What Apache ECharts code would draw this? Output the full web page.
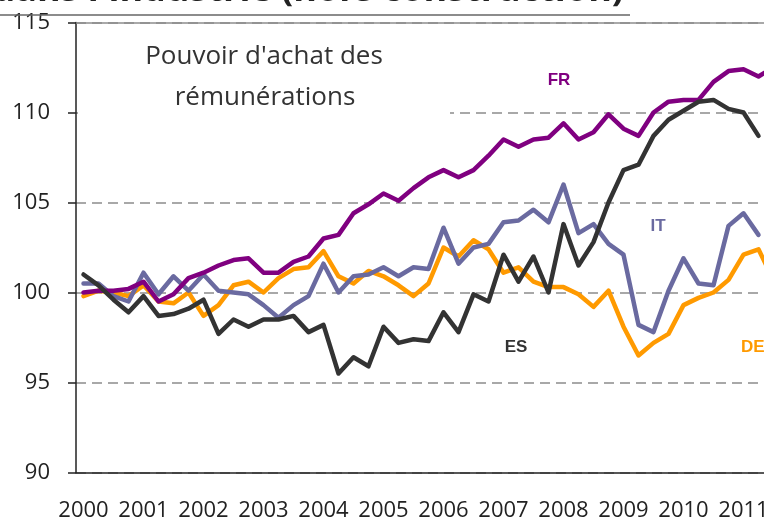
<!DOCTYPE html>
<html>
<head>
<meta charset="utf-8">
<script src="https://cdn.jsdelivr.net/npm/echarts@6/dist/echarts.min.js"></script>
<style>
    html, body { margin: 0; padding: 0; background: #fff; }
    #chart { width: 764px; height: 524px; }
</style>
</head>
<body>
<div id="chart"></div>
<script>
// années affichées sur l'axe (données trimestrielles)
const years = [2000, 2001, 2002, 2003, 2004, 2005, 2006, 2007, 2008, 2009, 2010, 2011];
const quarterNames = ["T1", "T2", "T3", "T4"];

// pouvoir d'achat des rémunérations, base 100 en 2000T1
const frValues = [100.0, 100.1, 100.1, 100.2, 100.6, 99.5, 99.9, 100.8, 101.1, 101.5, 101.8, 101.9,
    101.1, 101.1, 101.7, 102.0, 103.0, 103.2, 104.4, 104.9, 105.5, 105.1, 105.8, 106.4,
    106.8, 106.4, 106.8, 107.6, 108.5, 108.1, 108.5, 108.6, 109.4, 108.5, 108.9, 109.9,
    109.1, 108.7, 110.0, 110.6, 110.7, 110.7, 111.7, 112.3, 112.4, 112.0, 112.5];
const deValues = [99.8, 100.1, 100.0, 99.8, 100.4, 99.5, 99.4, 100.0, 98.7, 99.3, 100.4, 100.6,
    100.0, 100.8, 101.3, 101.4, 102.3, 100.9, 100.5, 101.2, 100.9, 100.4, 99.8, 100.5,
    102.5, 102.0, 102.9, 102.4, 101.1, 101.4, 100.6, 100.3, 100.3, 99.9, 99.2, 100.1,
    98.1, 96.5, 97.2, 97.7, 99.3, 99.7, 100.0, 100.7, 102.1, 102.4, 100.7];
const itValues = [100.5, 100.5, 99.8, 99.5, 101.1, 99.9, 100.9, 100.1, 101.0, 100.1, 100.0, 99.9,
    99.3, 98.6, 99.3, 99.8, 101.6, 100.0, 100.9, 101.0, 101.4, 100.9, 101.4, 101.3,
    103.6, 101.6, 102.5, 102.7, 103.9, 104.0, 104.6, 103.9, 106.0, 103.3, 103.8, 102.7,
    102.1, 98.2, 97.8, 100.1, 101.9, 100.5, 100.4, 103.7, 104.4, 103.2];
const esValues = [101.0, 100.4, 99.6, 98.9, 99.8, 98.7, 98.8, 99.1, 99.6, 97.7, 98.5, 98.1,
    98.5, 98.5, 98.7, 97.8, 98.2, 95.5, 96.4, 95.9, 98.1, 97.2, 97.4, 97.3,
    98.9, 97.8, 99.9, 99.5, 102.1, 100.6, 102.0, 100.0, 103.8, 101.5, 102.8, 105.0,
    106.8, 107.1, 108.7, 109.6, 110.1, 110.6, 110.7, 110.2, 110.0, 108.7];

// axe des ordonnées
const yMin = 90;
const yMax = 115;
const yStep = 5;

const categories = [];
years.forEach(y => quarterNames.forEach(q => categories.push(y + q)));

const fontMain = "'Open Sans', 'Liberation Sans', sans-serif";
const fontLabel = "'Liberation Sans', Arial, sans-serif";

const chart = echarts.init(document.getElementById("chart"), null, { renderer: "canvas" });

function lineSeries(name, data, color, z) {
    return {
        name: name,
        type: "line",
        data: data,
        symbol: "none",
        smooth: false,
        z: z,
        lineStyle: { color: color, width: 4.5, join: "round", cap: "round" }
    };
}

const deSeries = lineSeries("DE", deValues, "#ff9a00", 2);
// ligne pleine en haut de la zone de tracé
deSeries.markLine = {
    silent: true,
    symbol: "none",
    label: { show: false },
    lineStyle: { color: "#8c8c8c", type: "solid", width: 1.5 },
    data: [{ yAxis: yMax }]
};

chart.setOption({
    animation: false,
    backgroundColor: "#fff",
    // la zone de tracé dépasse à droite (graphique coupé)
    grid: {
        left: 76, top: 22.5, width: 720, height: 450,
        containLabel: false,
        outerBoundsMode: "none"
    },
    xAxis: {
        type: "category",
        data: categories,
        boundaryGap: true,
        axisLine: { lineStyle: { color: "#222", width: 1.5 } },
        axisTick: { interval: 3, length: 8, lineStyle: { color: "#222", width: 1.5 } },
        axisLabel: {
            interval: 3,
            margin: 27,
            color: "#222",
            fontSize: 22,
            fontFamily: fontMain,
            formatter: v => v.slice(0, 4)
        },
        splitLine: { show: false }
    },
    yAxis: {
        type: "value",
        min: yMin,
        max: yMax,
        interval: yStep,
        axisLine: { show: true, lineStyle: { color: "#222", width: 1.5 } },
        axisTick: { show: true, length: 8, lineStyle: { color: "#222", width: 1.5 } },
        axisLabel: { margin: 26, color: "#222", fontSize: 22, fontFamily: fontMain },
        splitLine: { lineStyle: { color: "#8c8c8c", type: [10, 6], width: 1.5 } }
    },
    graphic: [
        // titre coupé en haut
        {
            type: "text", right: 764 - 624, top: -27, z: 5,
            style: { text: "dans l'industrie (hors construction)", fill: "#222",
                font: "bold 36px " + fontMain }
        },
        { type: "line", shape: { x1: 0, y1: 15, x2: 630, y2: 15 }, z: 5,
            style: { stroke: "#666", lineWidth: 1.5 } },
        // cadre blanc du texte
        { type: "rect", shape: { x: 78, y: 30, width: 372, height: 98 }, z: 1,
            style: { fill: "#fff" } },
        { type: "text", x: 264, y: 57, z: 5,
            style: { text: "Pouvoir d'achat des", fill: "#333", font: "26px " + fontMain,
                align: "center", verticalAlign: "middle" } },
        { type: "text", x: 265, y: 98, z: 5,
            style: { text: "rémunérations", fill: "#333", font: "26px " + fontMain,
                align: "center", verticalAlign: "middle" } },
        // étiquettes des pays
        { type: "text", x: 559, y: 80, z: 5,
            style: { text: "FR", fill: "#800080", font: "bold 17px " + fontLabel,
                align: "center", verticalAlign: "middle" } },
        { type: "text", x: 658, y: 226, z: 5,
            style: { text: "IT", fill: "#6a6aa0", font: "bold 17px " + fontLabel,
                align: "center", verticalAlign: "middle" } },
        { type: "text", x: 516, y: 347, z: 5,
            style: { text: "ES", fill: "#333", font: "bold 17px " + fontLabel,
                align: "center", verticalAlign: "middle" } },
        { type: "text", x: 741, y: 347, z: 5,
            style: { text: "DE", fill: "#ff9a00", font: "bold 17px " + fontLabel,
                align: "left", verticalAlign: "middle" } }
    ],
    series: [
        deSeries,
        lineSeries("IT", itValues, "#6a6aa0", 3),
        lineSeries("FR", frValues, "#800080", 4),
        lineSeries("ES", esValues, "#333333", 5)
    ]
});

window.addEventListener("resize", function () {
    chart.resize();
});
</script>
</body>
</html>
